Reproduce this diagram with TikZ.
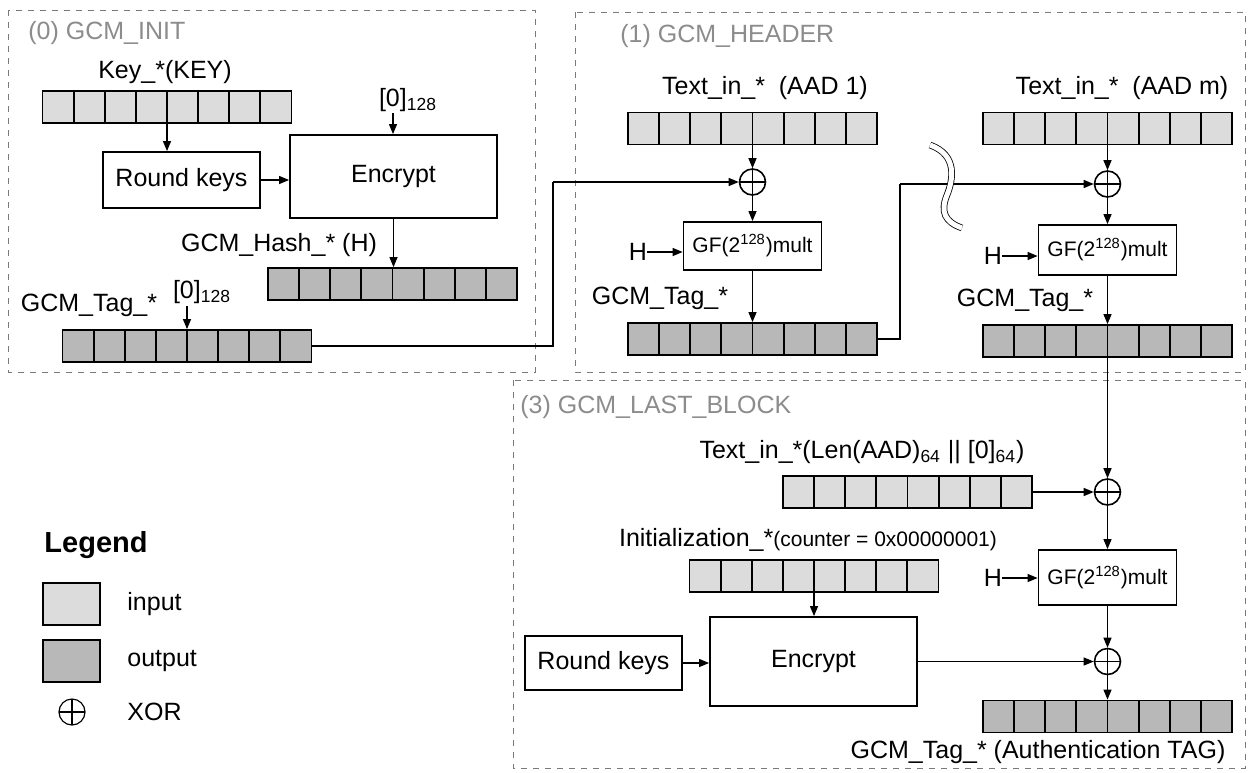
\documentclass[tikz,border=0pt]{standalone}
\usepackage{fontspec}
\setmainfont{Liberation Sans}
\usetikzlibrary{arrows.meta, calc}
\definecolor{ingray}{HTML}{DCDCDC}
\definecolor{outgray}{HTML}{B8B8B8}
\definecolor{titlegray}{HTML}{8C8C8C}
\definecolor{framegray}{HTML}{7A7A7A}

\begin{document}
\begin{tikzpicture}[x=0.5pt, y=-0.5pt, font=\fontsize{12.5}{15}\selectfont,
        secframe/.style={draw=framegray, dashed, thin},
        sectitle/.style={anchor=west, text=titlegray, inner sep=0pt},
        lbl/.style={inner sep=0pt},
        block/.style={draw, line width=0.9pt, fill=white, inner sep=0pt},
        gfbox/.style={block, minimum width=69pt, font=\fontsize{10.5}{12}\selectfont},
        bar/.style={draw, line width=0.9pt, minimum width=124.5pt, minimum height=16pt, inner sep=0pt,
            path picture={\foreach \k in {1,...,7}{\draw[line width=0.9pt] ($(path picture bounding box.north west)!\k/8!(path picture bounding box.north east)$) -- ($(path picture bounding box.south west)!\k/8!(path picture bounding box.south east)$);}}},
        inbar/.style={bar, fill=ingray},
        outbar/.style={bar, fill=outgray},
        xor/.style={circle, draw, line width=0.8pt, minimum size=13pt, inner sep=0pt,
            path picture={\draw[line width=0.8pt] (path picture bounding box.north) -- (path picture bounding box.south) (path picture bounding box.west) -- (path picture bounding box.east);}},
        arr/.style={line width=0.6pt, -{Triangle[length=5pt, width=4pt]}},
        wire/.style={line width=0.6pt}]
        \useasboundingbox (0,0) rectangle (1253,772);

        % 세 단계 영역 (점선 틀)
        \draw[secframe] (8,10) rectangle (535,372);
        \draw[secframe] (575,12) rectangle (1245,372);
        \draw[secframe] (513,380) rectangle (1245,768);
        \node[sectitle] at (28,33) {(0) GCM\_INIT};
        \node[sectitle] at (620,36) {(1) GCM\_HEADER};
        \node[sectitle] at (520,407) {(3) GCM\_LAST\_BLOCK};

        % (0) 초기화: 키, 라운드 키, 암호화
        \node[lbl] at (165,72) {Key\_*(KEY)};
        \node[inbar] (kbar) at (167,107) {};
        \node[block, minimum width=78.5pt, minimum height=28pt] (rk1) at (181.5,180) {Round keys};
        \node[block, minimum width=103.5pt, minimum height=41.5pt] (enc1) at (393.5,176.5) {Encrypt};
        \node[lbl] at (408,100) {[0]\textsubscript{128}};
        \coordinate (z1) at (393,113);
        \draw[arr] (kbar) -- (kbar |- rk1.north);
        \draw[arr] (rk1.east) -- (rk1.east -| enc1.west);
        \draw[arr] (z1) -- (z1 |- enc1.north);

        % 해시 H 와 태그 초기값
        \node[lbl] at (279,245) {GCM\_Hash\_* (H)};
        \node[outbar] (hbar) at (392.5,284) {};
        \draw[arr] (enc1.south) -- (enc1.south |- hbar.north);
        \node[lbl] at (89,305) {GCM\_Tag\_*};
        \node[lbl] at (202,292) {[0]\textsubscript{128}};
        \coordinate (z2) at (187,306);
        \node[outbar] (tbar0) at (187,346) {};
        \draw[arr] (z2) -- (z2 |- tbar0.north);

        % (1) 헤더: 첫 번째 AAD 블록
        \node[lbl] at (765,88) {Text\_in\_*\ \ (AAD 1)};
        \node[inbar] (bar1) at (752.5,128.5) {};
        \node[xor] (x1) at (752.5,182) {};
        \node[gfbox, minimum height=24pt] (gf1) at (752.5,246) {GF(2\textsuperscript{128})mult};
        \node[lbl] (h1) at (638,252) {H};
        \node[lbl] at (660,298) {GCM\_Tag\_*};
        \node[outbar] (tag1) at (752.5,339) {};
        \coordinate (j0) at (553,182);
        \draw[wire] (tbar0.east) -| (j0);
        \draw[arr] (j0) -- (x1);
        \draw[arr] (bar1) -- (x1);
        \draw[arr] (x1) -- (gf1);
        \draw[arr] (h1.east) -- (h1.east -| gf1.west);
        \draw[arr] (gf1) -- (tag1);

        % (1) 헤더: 마지막 AAD 블록
        \node[lbl] at (1122,88) {Text\_in\_*\ \ (AAD m)};
        \node[inbar] (bar2) at (1107.5,128.5) {};
        \node[xor] (x2) at (1107.5,184) {};
        \node[gfbox, minimum height=25pt] (gf2) at (1107.5,250) {GF(2\textsuperscript{128})mult};
        \node[lbl] (h2) at (993,256) {H};
        \node[lbl] at (1025,300) {GCM\_Tag\_*};
        \node[outbar] (tag2) at (1107.5,341) {};
        \coordinate (j1) at (900,184);
        \draw[wire] (tag1.east) -| (j1);
        \draw[arr] (j1) -- (x2);
        \draw[arr] (bar2) -- (x2);
        \draw[arr] (x2) -- (gf2);
        \draw[arr] (h2.east) -- (h2.east -| gf2.west);
        \draw[arr] (gf2) -- (tag2);
        % 생략 표시
        \draw[thin, double=white, double distance=2.5pt] (930,145) .. controls (958,155) and (953,180) .. (947,195) .. controls (940,212) and (945,222) .. (962,228);

        % (3) 마지막 블록: 길이 블록과 GF 곱
        \node[lbl] at (862,452) {Text\_in\_*(Len(AAD)\textsubscript{64} || [0]\textsubscript{64})};
        \node[inbar] (lbar) at (907.5,492) {};
        \node[xor] (x3) at (1107.5,492) {};
        \node[gfbox, minimum height=27.5pt] (gf3) at (1107.5,577.5) {GF(2\textsuperscript{128})mult};
        \node[lbl] (h3) at (993,578) {H};
        \draw[arr] (tag2) -- (x3);
        \draw[arr] (lbar) -- (x3);
        \draw[arr] (x3) -- (gf3);
        \draw[arr] (h3.east) -- (h3.east -| gf3.west);

        % (3) 마지막 블록: 카운터 암호화와 최종 태그
        \node[lbl] at (808,540) {Initialization\_*{\fontsize{10.5}{12}\selectfont(counter = 0x00000001)}};
        \node[inbar] (ibar) at (814,576) {};
        \node[block, minimum width=103.5pt, minimum height=44.5pt] (enc2) at (813.5,661.5) {Encrypt};
        \node[block, minimum width=78.5pt, minimum height=27pt] (rk2) at (603.5,663) {Round keys};
        \node[xor] (x4) at (1107.5,661.5) {};
        \node[outbar] (fbar) at (1107.5,716.5) {};
        \node[lbl] at (1038,752) {GCM\_Tag\_* (Authentication TAG)};
        \draw[arr] (ibar.south) -- (ibar.south |- enc2.north);
        \draw[arr] (rk2.east) -- (rk2.east -| enc2.west);
        \draw[arr] (enc2) -- (x4);
        \draw[arr] (gf3) -- (x4);
        \draw[arr] (x4) -- (fbar);

        % 범례
        \node[lbl, font=\fontsize{14.5}{17}\selectfont\bfseries] at (96,545) {Legend};
        \node[draw, line width=0.9pt, fill=ingray, minimum width=28.5pt, minimum height=21pt] (lin) at (71.5,604) {};
        \node[lbl, anchor=west] at (127,604) {input};
        \node[draw, line width=0.9pt, fill=outgray, minimum width=28.5pt, minimum height=21pt] (lout) at (71.5,661) {};
        \node[lbl, anchor=west] at (127,661) {output};
        \node[xor, line width=0.6pt] (lx) at (72,712) {};
        \node[lbl, anchor=west] at (127,712) {XOR};
\end{tikzpicture}
\end{document}
